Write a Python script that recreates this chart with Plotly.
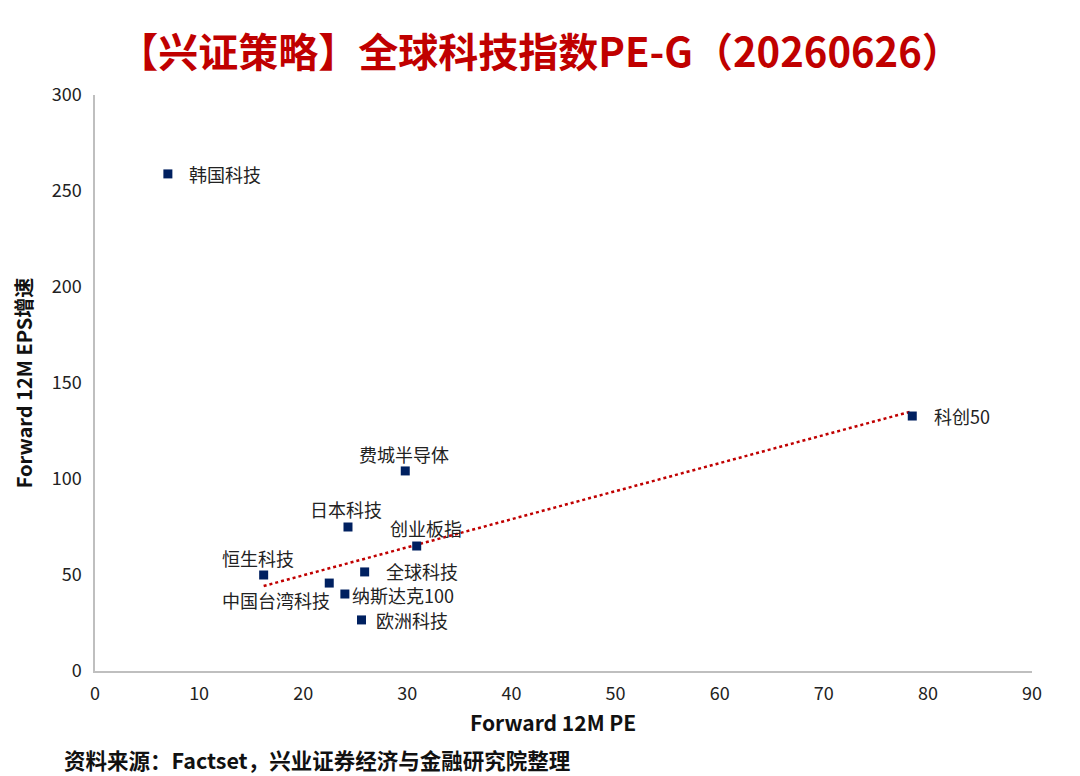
import numpy as np
import plotly.graph_objects as go

names = ["韩国科技", "科创50", "费城半导体", "日本科技", "创业板指", "恒生科技",
         "全球科技", "中国台湾科技", "纳斯达克100", "欧洲科技"]
pe = [7.0, 78.5, 29.8, 24.3, 30.9, 16.2, 25.9, 22.5, 24.0, 25.6]
eps_growth = [258.9, 132.8, 104.2, 75.0, 65.1, 50.0, 51.6, 45.8, 40.1, 26.6]

# label placement: (xanchor, yanchor, xshift, yshift)
label_place = [("left", "middle", 19, 0), ("left", "middle", 20, 0),
               ("center", "bottom", -1, 2), ("center", "bottom", -2, 3),
               ("center", "bottom", 9, 3), ("center", "bottom", -6, 2),
               ("left", "middle", 19, 1), ("right", "top", 3, -2),
               ("left", "middle", 5, -1), ("left", "middle", 12, 0)]

# trendline (excludes 韩国科技 outlier)
tx = np.array(pe[1:])
ty = np.array(eps_growth[1:])
k, b = np.polyfit(tx, ty, 1)
line_x = np.array([tx.min(), tx.max()])
line_y = k * line_x + b

font_cjk = "Noto Sans CJK SC, Open Sans, sans-serif"

fig = go.Figure()
fig.add_trace(go.Scatter(
    x=line_x, y=line_y, mode="lines",
    line=dict(color="#C00000", width=2.5, dash="dot"),
    hoverinfo="skip", showlegend=False,
))
fig.add_trace(go.Scatter(
    x=pe, y=eps_growth, mode="markers",
    marker=dict(symbol="square", size=9, color="#002060"),
    showlegend=False,
))

annotations = []
for n, xv, yv, (xa, ya, xs, ys) in zip(names, pe, eps_growth, label_place):
    annotations.append(dict(
        x=xv, y=yv, xref="x", yref="y", text=n, showarrow=False,
        xanchor=xa, yanchor=ya, xshift=xs, yshift=ys,
        font=dict(family=font_cjk, size=18, color="#222222"),
    ))
annotations.append(dict(
    text="<b>资料来源：Factset，兴业证券经济与金融研究院整理</b>",
    xref="paper", yref="paper", x=-0.0352, y=(671 - 759) / 576,
    xanchor="left", yanchor="middle", showarrow=False,
    font=dict(family=font_cjk, size=21.5, color="#111111"),
))
annotations.append(dict(
    text="<b>Forward 12M PE</b>",
    xref="paper", yref="paper", x=(553 - 95) / 937, y=(671 - 722) / 576,
    xanchor="center", yanchor="middle", showarrow=False,
    font=dict(family=font_cjk, size=21, color="#111111"),
))

fig.update_layout(
    width=1080, height=776,
    margin=dict(l=95, r=48, t=95, b=105),
    paper_bgcolor="white", plot_bgcolor="white",
    font=dict(family=font_cjk, size=18, color="#222222"),
    title=dict(
        text="<b>【兴证策略】全球科技指数PE-G（20260626）</b>",
        x=0.5, xanchor="center", y=0.932, yanchor="middle",
        font=dict(family=font_cjk, size=40, color="#C00000"),
    ),
    xaxis=dict(
        range=[0, 90], dtick=10, showgrid=False, zeroline=False,
        showline=True, linecolor="#BFBFBF", linewidth=1.5,
        ticks="", ticklabelstandoff=6, tickfont=dict(size=18, color="#222222"),
    ),
    yaxis=dict(
        range=[0, 300], dtick=50, showgrid=False, zeroline=False,
        showline=True, linecolor="#BFBFBF", linewidth=1.5,
        ticks="", ticklabelstandoff=8, tickfont=dict(size=18, color="#222222"),
        title=dict(text="<b>Forward 12M EPS增速</b>", font=dict(size=20, color="#111111"), standoff=14),
    ),
    annotations=annotations,
)

fig.write_html("out.html")
